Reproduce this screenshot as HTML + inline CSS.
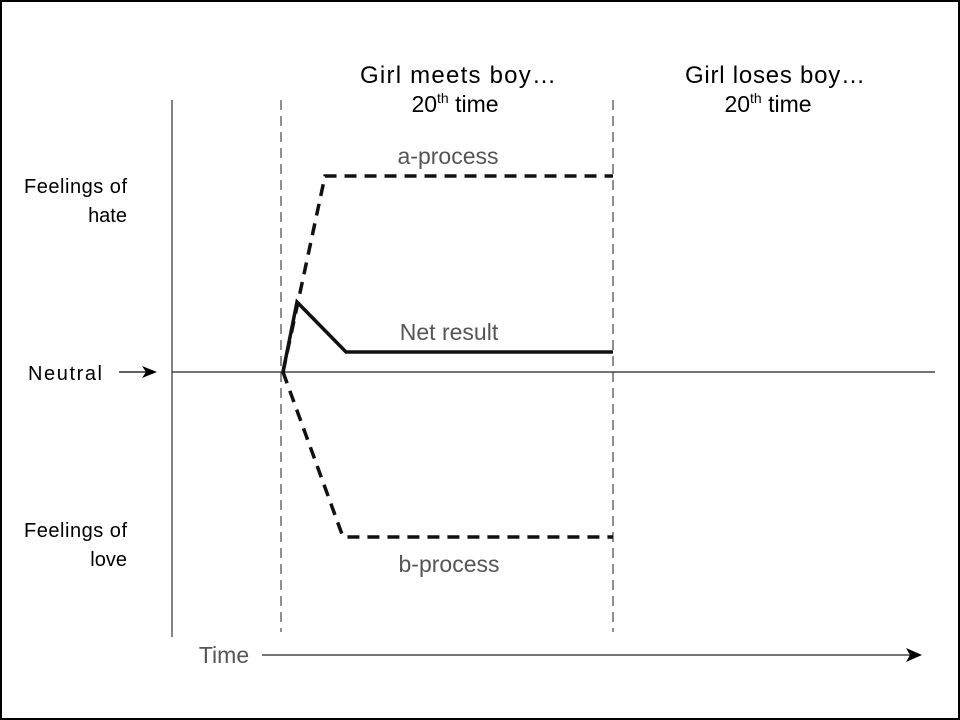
<!DOCTYPE html>
<html><head><style>
html,body{margin:0;padding:0;background:#fff}
svg{display:block}
</style></head><body>
<svg width="960" height="720" viewBox="0 0 960 720" xmlns="http://www.w3.org/2000/svg">
<rect x="1" y="1" width="958" height="718" fill="#fff" stroke="#000" stroke-width="2"/>
<g font-family="Liberation Sans, sans-serif" fill="#000">
<text x="458" y="83" font-size="24" text-anchor="middle" textLength="196">Girl meets boy…</text>
<text x="455" y="112" font-size="23" text-anchor="middle">20<tspan font-size="14" dy="-9">th</tspan><tspan dy="9"> time</tspan></text>
<text x="775" y="83" font-size="24" text-anchor="middle" textLength="180">Girl loses boy…</text>
<text x="768" y="112" font-size="23" text-anchor="middle">20<tspan font-size="14" dy="-9">th</tspan><tspan dy="9"> time</tspan></text>
<text x="127" y="193" font-size="20" text-anchor="end" textLength="103">Feelings of</text>
<text x="127" y="222" font-size="20" text-anchor="end">hate</text>
<text x="102" y="380" font-size="20" text-anchor="end" textLength="74">Neutral</text>
<text x="127" y="537" font-size="20" text-anchor="end" textLength="103">Feelings of</text>
<text x="127" y="566" font-size="20" text-anchor="end">love</text>
</g>
<g font-family="Liberation Sans, sans-serif" fill="#555" font-size="23" text-anchor="middle">
<text x="448" y="164">a-process</text>
<text x="449" y="340">Net result</text>
<text x="449" y="572">b-process</text>
<text x="224" y="663">Time</text>
</g>
<line x1="172" y1="100" x2="172" y2="637" stroke="#333" stroke-width="1.2"/>
<line x1="281" y1="100" x2="281" y2="632" stroke="#444" stroke-width="1.2" stroke-dasharray="10,6"/>
<line x1="613" y1="100" x2="613" y2="632" stroke="#444" stroke-width="1.2" stroke-dasharray="10,6"/>
<line x1="172" y1="372" x2="935" y2="372" stroke="#222" stroke-width="1.2"/>
<line x1="119" y1="372" x2="148" y2="372" stroke="#000" stroke-width="1.2"/>
<polygon points="157,372 142,366 146,372 142,378" fill="#000"/>
<line x1="262" y1="655" x2="910" y2="655" stroke="#222" stroke-width="1.3"/>
<polygon points="922,655 906,648 910,655 906,662" fill="#000"/>
<polyline points="283,372 325,176 613,176" fill="none" stroke="#111" stroke-width="3.5" stroke-dasharray="12,8"/>
<polyline points="283,372 343,537 613,537" fill="none" stroke="#111" stroke-width="3.5" stroke-dasharray="12,8"/>
<polyline points="283,372 297,302 346,352 613,352" fill="none" stroke="#111" stroke-width="3.5"/>
</svg>
</body></html>
